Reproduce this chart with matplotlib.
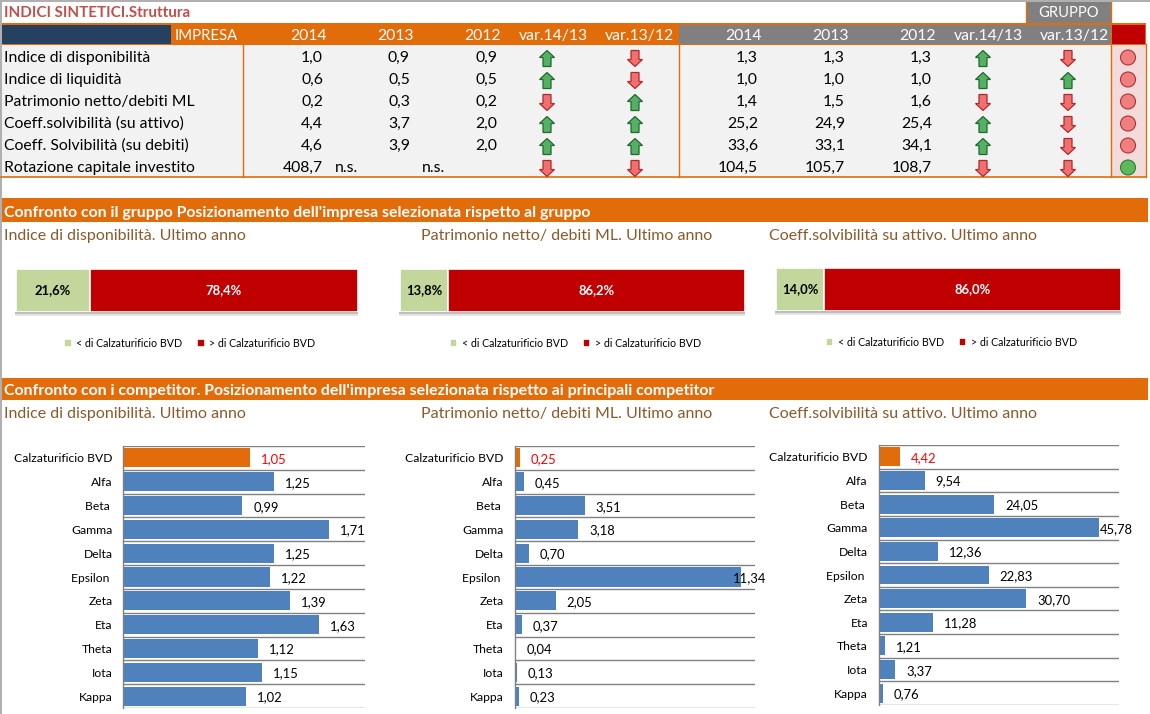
import matplotlib
matplotlib.use("Agg")
import matplotlib.pyplot as plt
from matplotlib.patches import Rectangle, Polygon, Circle
from matplotlib.ticker import FixedLocator, NullFormatter, NullLocator

W, H = 1150, 714
plt.rcParams['font.family'] = ['Lato', 'DejaVu Sans']

# ---------- data ----------
title = "INDICI SINTETICI.Struttura"
years = ["2014", "2013", "2012"]
var_labels = ["var.14/13", "var.13/12"]
indici = ["Indice di disponibilità", "Indice di liquidità", "Patrimonio netto/debiti ML",
          "Coeff.solvibilità (su attivo)", "Coeff. Solvibilità (su debiti)", "Rotazione capitale investito"]
imp_2014 = ["1,0", "0,6", "0,2", "4,4", "4,6", "408,7"]
imp_2013 = ["0,9", "0,5", "0,3", "3,7", "3,9", "n.s."]
imp_2012 = ["0,9", "0,5", "0,2", "2,0", "2,0", "n.s."]
gru_2014 = ["1,3", "1,0", "1,4", "25,2", "33,6", "104,5"]
gru_2013 = ["1,3", "1,0", "1,5", "24,9", "33,1", "105,7"]
gru_2012 = ["1,3", "1,0", "1,6", "25,4", "34,1", "108,7"]
imp_var1 = [1, 1, -1, 1, 1, -1]
imp_var2 = [-1, -1, 1, 1, 1, -1]
gru_var1 = [1, 1, -1, 1, 1, -1]
gru_var2 = [-1, 1, -1, -1, -1, -1]
semaforo = [0, 0, 0, 0, 0, 1]

section1 = "Confronto con il gruppo Posizionamento dell'impresa selezionata rispetto al gruppo"
section2 = "Confronto con i competitor. Posizionamento dell'impresa selezionata rispetto ai principali competitor"
chart_titles = ["Indice di disponibilità. Ultimo anno", "Patrimonio netto/ debiti ML. Ultimo anno",
                "Coeff.solvibilità su attivo. Ultimo anno"]
legend_labels = ["< di Calzaturificio BVD", "> di Calzaturificio BVD"]
share_lower = [21.6, 13.8, 14.0]
share_upper = [78.4, 86.2, 86.0]

companies = ["Calzaturificio BVD", "Alfa", "Beta ", "Gamma", "Delta", "Epsilon ", "Zeta", "Eta", "Theta", "Iota", "Kappa"]
disponibilita = [1.05, 1.25, 0.99, 1.71, 1.25, 1.22, 1.39, 1.63, 1.12, 1.15, 1.02]
patrimonio = [0.25, 0.45, 3.51, 3.18, 0.70, 11.34, 2.05, 0.37, 0.04, 0.13, 0.23]
solvibilita = [4.42, 9.54, 24.05, 45.78, 12.36, 22.83, 30.70, 11.28, 1.21, 3.37, 0.76]

# ---------- style ----------
ORANGE = "#E36C0A"; NAVY = "#254061"; GREY = "#808080"; CELL = "#F2F2F2"
RED = "#C00000"; GREEN_L = "#C3D69B"; BLUE = "#4F81BD"; BROWN = "#8A5A2B"
FS = 11.3

fig = plt.figure(figsize=(W / 100, H / 100), dpi=100, facecolor="white")
bg = fig.add_axes([0, 0, 1, 1])
bg.set_xlim(0, W); bg.set_ylim(H, 0); bg.axis("off")

def box(x0, y0, x1, y1, c, z=1, **k):
    bg.add_patch(Rectangle((x0, y0), x1 - x0, y1 - y0, facecolor=c, edgecolor="none", zorder=z, **k))

def txt(x, y, s, ha="left", c="black", fs=FS, w="normal"):
    bg.text(x, y, s, ha=ha, va="baseline", color=c, fontsize=fs, fontweight=w, zorder=5)

def arrow(cx, cy, d):
    f, e = ("#55B065", "#1E6B2C") if d > 0 else ("#F07070", "#B02A2A")
    pts = [(0, -8), (7.5, -1), (4, -1), (4, 8), (-4, 8), (-4, -1), (-7.5, -1)]
    bg.add_patch(Polygon([(cx + a, cy + b * d) for a, b in pts], closed=True,
                         facecolor=f, edgecolor=e, lw=0.9, zorder=4))

# page edges
box(0, 0, W, 1.5, "#B0B0B0", 2); box(0, 0, 1.5, H, "#B0B0B0", 2)

# ---------- top table ----------
txt(4, 17, title, c="#C0504D", fs=10.9, w="bold")
box(1026, 1.5, 1111, 23, GREY)
txt(1068.5, 17, "GRUPPO", "center", "white", fs=10.6)
box(1, 23, 1146, 45, ORANGE)
box(2, 24.5, 171, 44, NAVY)
box(679, 24.5, 1111, 44, GREY)
box(1112, 24.5, 1145, 44, RED)
box(1, 45, 1111, 177, CELL)
box(1111, 45, 1146, 177, "#F2DCDB")
for xv in (243, 679, 1111, 1146):
    bg.plot([xv, xv], [44, 177], color=ORANGE, lw=1.0, zorder=3)
bg.plot([1, 1146], [177, 177], color=ORANGE, lw=1.2, zorder=3)
bg.plot([1026, 1026], [1.5, 23], color=ORANGE, lw=1.0, zorder=3)
bg.plot([1111, 1111], [1.5, 23], color=ORANGE, lw=1.0, zorder=3)

txt(238, 40, "IMPRESA", "right", "white", fs=10.7)
for xr, y_ in zip((327, 414, 501), years):
    txt(xr, 40, y_, "right", "white")
for xr, y_ in zip((762, 849, 936), years):
    txt(xr, 40, y_, "right", "white")
for xc, v in zip((553, 639, 988, 1074), var_labels * 2):
    txt(xc, 40, v, "center", "white")

rows_y = [57, 79, 101, 123, 145, 167]
cols = [(323, imp_2014), (410, imp_2013), (497, imp_2012), (758, gru_2014), (845, gru_2013), (932, gru_2012)]
for i, yy in enumerate(rows_y):
    txt(4, yy + 5, indici[i])
    for xr, col in cols:
        if col[i] == "n.s.":
            txt(xr - 75, yy + 5, col[i])
        else:
            txt(xr, yy + 5, col[i], "right")
    for xc, col in zip((547, 635, 983, 1068), (imp_var1, imp_var2, gru_var1, gru_var2)):
        arrow(xc, yy + 1.5, col[i])
    good = semaforo[i] == 1
    bg.add_patch(Circle((1128, yy + 0.5), 7.5, facecolor="#5CB85C" if good else "#F08080",
                        edgecolor="#2E7D32" if good else "#B03030", lw=0.8, zorder=4))

# ---------- section bands ----------
box(1, 198, 1148, 222, ORANGE)
txt(4, 216.5, section1, c="white", fs=11.4, w="bold")
box(1, 378, 1148, 400, ORANGE)
txt(4, 395, section2, c="white", fs=11.4, w="bold")
for xt, s in zip((4, 421, 769), chart_titles):
    txt(xt, 240, s, c=BROWN, fs=11.5)
    txt(xt, 418, s, c=BROWN, fs=11.5)

def add_axes_px(l, t, r, b):
    a = fig.add_axes([l / W, 1 - b / H, (r - l) / W, (b - t) / H])
    a.patch.set_alpha(0)
    return a

# ---------- stacked bars ----------
stack_boxes = [(16, 269, 358, 312), (400, 269, 745, 312), (776, 268, 1121, 311)]
for (l, t, r, b), lo, up in zip(stack_boxes, share_lower, share_upper):
    box(l - 1, b, r, b + 1.5, "#BDBDBD", 1)
    box(l - 1, b + 1.5, r, b + 3.5, "#E4E4E4", 1)
    a = add_axes_px(l, t, r, b)
    a.set_xlim(0, 100); a.set_ylim(-0.5, 0.5); a.axis("off")
    b1 = a.barh([0], [lo], height=1, color=GREEN_L, edgecolor="white", lw=1.2, label=legend_labels[0])
    b2 = a.barh([0], [up], left=[lo], height=1, color=RED, edgecolor="white", lw=1.2, label=legend_labels[1])
    a.text(lo / 2, 0, f"{lo:.1f}%".replace(".", ","), ha="center", va="center", fontsize=9.4, fontweight="bold", color="black")
    a.text(lo + up / 2, 0, f"{up:.1f}%".replace(".", ","), ha="center", va="center", fontsize=9.4, fontweight="bold", color="white")
    a.legend(handles=[b1, b2], loc="center", bbox_to_anchor=(0.508, -0.73), ncol=2, frameon=False,
             fontsize=7.7, handlelength=0.7, handleheight=0.85, handletextpad=0.4, columnspacing=1.4)

# ---------- competitor bars ----------
panels = [(123.5, 446, 365, 708, disponibilita, 2.012, 400),
          (514.5, 446, 755, 708, patrimonio, 12.02, 733),
          (879, 445, 1119, 705, solvibilita, 50.0, 1100)]
for l, t, r, b, vals, xmax, label_limit in panels:
    a = add_axes_px(l, t, r, b)
    n = len(companies)
    a.set_xlim(0, xmax); a.set_ylim(n - 0.5, -0.5)
    colors = [ORANGE] + [BLUE] * (n - 1)
    a.barh(range(n), vals, height=0.8, color=colors, zorder=2)
    a.set_yticks(range(n)); a.set_yticklabels(companies, fontsize=8.75)
    a.yaxis.set_minor_locator(FixedLocator([i - 0.5 for i in range(n + 1)]))
    a.yaxis.set_minor_formatter(NullFormatter())
    a.tick_params(axis="y", which="both", length=0, pad=8)
    a.grid(True, axis="y", which="minor", color=GREY, lw=1.0, zorder=1)
    a.xaxis.set_major_locator(NullLocator())
    for s in ("top", "right", "bottom"):
        a.spines[s].set_visible(False)
    a.spines["left"].set_color(GREY); a.spines["left"].set_linewidth(1.0)
    px_per_unit = (r - l) / xmax
    for i, v in enumerate(vals):
        xpx = min(l + v * px_per_unit + 11, label_limit)
        a.text((xpx - l) / px_per_unit, i + 0.05, f"{v:.2f}".replace(".", ","), ha="left", va="center",
               fontsize=9.4, color="#FF0000" if i == 0 else "black", clip_on=False, zorder=4)

fig.savefig("out.png", dpi=100)
